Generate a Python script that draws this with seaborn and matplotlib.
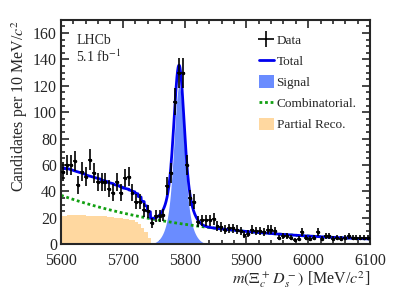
import numpy as np
import matplotlib
matplotlib.use("Agg")
import matplotlib.pyplot as plt
import seaborn as sns
from matplotlib.patches import Patch
from matplotlib.lines import Line2D
from matplotlib.ticker import MultipleLocator

# ---------------- data ----------------
bin_width = 6.25
mass_lo, mass_hi = 5600.0, 6100.0
counts = [55, 60, 60, 63, 45, 55, 51, 64, 54, 47, 47, 47, 42, 39, 47, 39, 50, 51, 39, 32,
          32, 26, 25, 16, 21, 21, 22, 44, 54, 108, 130, 130, 60, 35, 32,
          17, 18, 18, 18, 19, 14, 13, 11, 12, 12, 11, 10, 7, 8, 11, 10, 10, 9, 11, 11,
          10, 5, 6, 6, 5, 3, 4, 9, 5, 4, 5, 9, 4, 6, 6, 4, 5, 4, 5, 6, 5, 5, 5, 5, 5]

# partial reconstruction template (5 MeV steps from 5600)
pr_step = 5.0
pr_values = [21, 21.5, 22, 22, 22, 22, 22, 22, 21.5, 21.5, 21.5, 21.5, 21.5, 21, 21,
             20.5, 20.5, 20, 20, 19.5, 19, 19, 18.5, 18, 17, 15, 12, 9, 5, 0]

# fit parameters
sig_mean = 5791.0
sig_amp = 120.0
sig_core_sigma, sig_tail_sigma, sig_core_frac = 7.5, 15.0, 0.7
comb_at_5600, comb_slope = 37.0, 0.0045

# ---------------- derived ----------------
counts = np.array(counts, dtype=float)
centers = mass_lo + bin_width / 2 + bin_width * np.arange(len(counts))
errors = np.sqrt(counts)

m = np.arange(mass_lo, mass_hi + 0.25, 0.5)
signal = sig_amp * (sig_core_frac * np.exp(-0.5 * ((m - sig_mean) / sig_core_sigma) ** 2)
                    + (1 - sig_core_frac) * np.exp(-0.5 * ((m - sig_mean) / sig_tail_sigma) ** 2))
comb = comb_at_5600 * np.exp(-comb_slope * (m - mass_lo))
pr_arr = np.array(pr_values)
idx = ((m - mass_lo) // pr_step).astype(int)
partial = np.where(idx < len(pr_arr), pr_arr[np.clip(idx, 0, len(pr_arr) - 1)], 0.0)
total = signal + comb + partial
pr_edges = mass_lo + pr_step * np.arange(len(pr_arr) + 1)

# ---------------- style ----------------
sns.set_theme(style="ticks")
plt.rcParams["font.family"] = ["Liberation Serif", "DejaVu Serif"]
plt.rcParams["mathtext.fontset"] = "stix"
plt.rcParams["axes.linewidth"] = 1.5

fig = plt.figure(figsize=(4.07, 2.92), dpi=100)
ax = fig.add_axes([0.150, 0.164, 0.759, 0.768])

c_sig = "#6a8cff"
c_pr = "#ffd8a0"
c_tot = "#0000ee"
c_comb = "#12a012"

ax.fill_between(pr_edges, np.append(pr_arr, 0), step="post", color=c_pr, linewidth=0)
ax.fill_between(m, signal, color=c_sig, linewidth=0)
sns.lineplot(x=m, y=comb, color=c_comb, linewidth=2.0, linestyle=(0, (1, 1)), ax=ax)
sns.lineplot(x=m, y=total, color=c_tot, linewidth=2.0, ax=ax)
ax.errorbar(centers, counts, yerr=errors, xerr=bin_width / 2, fmt="o", ms=1.5,
            color="black", ecolor="black", elinewidth=1.2, capsize=0, zorder=5)

ax.set_xlim(mass_lo, mass_hi)
ax.set_ylim(0, 170)
ax.xaxis.set_major_locator(MultipleLocator(100))
ax.xaxis.set_minor_locator(MultipleLocator(20))
ax.yaxis.set_major_locator(MultipleLocator(20))
ax.yaxis.set_minor_locator(MultipleLocator(5))
ax.tick_params(which="both", direction="in", top=True, right=True, labelsize=11.5, width=1.2)
ax.tick_params(which="major", length=6)
ax.tick_params(which="minor", length=3)
ax.tick_params(axis="x", pad=6.5)
ax.tick_params(axis="y", pad=3)

ax.set_xlabel(r"$m(\Xi_c^+\,D_s^-)$ [MeV/$c^2$]", fontsize=11.5, loc="right", labelpad=0)
ax.set_ylabel(r"Candidates per 10 MeV/$c^2$", fontsize=11.5, loc="top", labelpad=2)

ax.text(0.05, 0.91, "LHCb", transform=ax.transAxes, fontsize=10, ha="left", va="center")
ax.text(0.05, 0.835, r"5.1 fb$^{-1}$", transform=ax.transAxes, fontsize=10, ha="left", va="center")

handles = [
    Line2D([0], [0], color="black", lw=1.2, marker="+", ms=12, mew=1.2, linestyle="none"),
    Line2D([0], [0], color=c_tot, lw=2),
    Patch(facecolor=c_sig, edgecolor="none"),
    Line2D([0], [0], color=c_comb, lw=2, linestyle=(0, (1, 1))),
    Patch(facecolor=c_pr, edgecolor="none"),
]
labels = ["Data", "Total", "Signal", "Combinatorial.", "Partial Reco."]
ax.legend(handles, labels, loc="upper left", bbox_to_anchor=(0.64, 0.94), frameon=False,
          fontsize=9.5, handlelength=1.15, handleheight=1.1, handletextpad=0.2,
          labelspacing=0.55, borderaxespad=0, borderpad=0)

fig.savefig("out.png", dpi=100)
